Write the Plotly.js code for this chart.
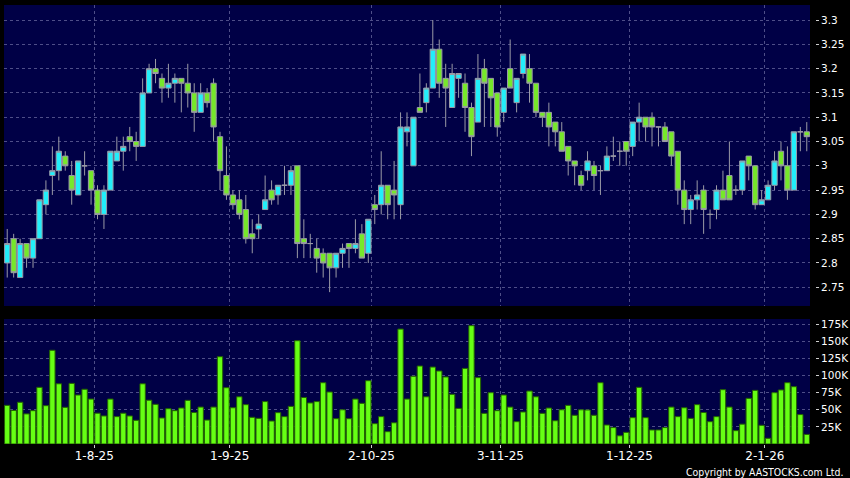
<!DOCTYPE html>
<html>
<head>
<meta charset="utf-8">
<script src="https://cdn.plot.ly/plotly-3.0.1.min.js"></script>
<style>
  html, body { margin: 0; padding: 0; background: #000; }
  #chart { width: 850px; height: 478px; }
</style>
</head>
<body>
<div id="chart"></div>
<script>
// Daily candles, 14 Jul 2025 – 12 Jan 2026 (trading days)
const openP  = [2.80,2.85,2.77,2.84,2.81,2.85,2.92,2.98,2.99,3.02,2.98,2.94,3.00,2.99,2.95,2.90,2.95,3.01,3.03,3.06,
                3.05,3.04,3.15,3.20,3.18,3.16,3.17,3.18,3.17,3.15,3.11,3.15,3.17,3.06,2.98,2.94,2.93,2.91,2.86,2.87,
                2.91,2.95,2.94,2.96,2.96,3.00,2.85,2.84,2.83,2.82,2.82,2.79,2.82,2.84,2.83,2.86,2.82,2.92,2.92,2.96,
                2.95,2.92,3.07,3.00,3.12,3.13,3.16,3.24,3.18,3.12,3.18,3.17,3.12,3.09,3.20,3.18,3.15,3.11,3.20,3.13,
                3.19,3.20,3.17,3.11,3.11,3.09,3.07,3.04,3.01,2.98,2.99,3.00,2.99,2.99,3.02,3.03,3.05,3.04,3.09,3.10,
                3.10,3.08,3.08,3.07,3.03,2.95,2.91,2.93,2.95,2.90,2.91,2.95,2.98,2.95,2.95,3.02,3.00,2.92,2.93,2.96,
                3.03,3.00,2.95,3.07,3.07];
const highP  = [2.87,2.86,2.85,2.84,2.85,2.93,2.97,3.04,3.06,3.03,3.01,3.01,3.03,2.99,2.96,2.96,3.03,3.06,3.06,3.08,
                3.07,3.18,3.21,3.22,3.19,3.21,3.19,3.18,3.21,3.17,3.17,3.16,3.18,3.07,3.04,2.95,2.95,2.94,2.89,2.90,
                2.98,2.97,2.96,3.00,3.00,3.00,2.89,2.86,2.85,2.83,2.82,2.82,2.84,2.84,2.89,2.88,2.89,2.94,3.03,2.96,
                3.01,3.11,3.11,3.10,3.19,3.17,3.30,3.26,3.21,3.21,3.19,3.19,3.13,3.23,3.22,3.18,3.15,3.16,3.26,3.18,
                3.23,3.23,3.17,3.11,3.13,3.09,3.09,3.04,3.01,2.99,3.03,3.01,3.00,3.04,3.06,3.05,3.05,3.09,3.13,3.10,
                3.11,3.08,3.09,3.07,3.03,2.97,2.94,2.97,2.96,2.91,2.96,2.99,3.05,2.96,3.01,3.02,3.00,2.95,2.97,3.03,
                3.05,3.04,3.07,3.08,3.09];
const lowP   = [2.77,2.77,2.77,2.79,2.79,2.85,2.90,2.94,2.97,2.99,2.92,2.94,2.98,2.92,2.89,2.87,2.95,3.01,2.99,3.03,
                3.01,3.04,3.15,3.17,3.13,3.14,3.13,3.11,3.12,3.07,3.11,3.12,3.05,2.95,2.93,2.91,2.89,2.84,2.82,2.85,
                2.91,2.92,2.92,2.94,2.94,2.81,2.81,2.81,2.78,2.77,2.74,2.77,2.79,2.79,2.82,2.81,2.80,2.88,2.90,2.89,
                2.89,2.89,3.04,3.00,3.11,3.11,3.16,3.14,3.08,3.12,3.14,3.07,3.02,3.09,3.08,3.08,3.06,3.09,3.16,3.11,
                3.18,3.13,3.10,3.08,3.04,3.04,3.03,2.98,2.96,2.95,2.97,2.95,2.94,2.99,3.01,3.00,3.00,3.02,3.05,3.05,
                3.04,3.04,3.05,3.00,2.92,2.88,2.88,2.91,2.86,2.87,2.89,2.93,2.93,2.94,2.94,2.97,2.91,2.92,2.93,2.95,
                2.97,2.93,2.95,3.03,3.03];
const closeP = [2.84,2.78,2.84,2.81,2.85,2.93,2.95,2.99,3.03,3.00,2.95,3.01,3.00,2.95,2.90,2.95,3.03,3.03,3.04,3.05,
                3.04,3.15,3.20,3.19,3.16,3.17,3.18,3.17,3.15,3.11,3.15,3.13,3.08,2.99,2.94,2.92,2.90,2.85,2.85,2.88,
                2.93,2.93,2.96,2.96,2.99,2.84,2.84,2.84,2.81,2.80,2.79,2.82,2.83,2.83,2.84,2.81,2.89,2.91,2.96,2.92,
                2.94,3.08,3.08,3.10,3.11,3.16,3.24,3.17,3.16,3.19,3.19,3.12,3.06,3.18,3.17,3.14,3.08,3.16,3.16,3.18,
                3.23,3.17,3.11,3.10,3.08,3.07,3.03,3.01,3.00,2.96,3.01,2.98,2.99,3.02,3.02,3.03,3.03,3.09,3.10,3.08,
                3.08,3.08,3.05,3.02,2.95,2.91,2.93,2.94,2.91,2.90,2.95,2.93,2.93,2.95,3.01,3.00,2.92,2.93,2.96,3.01,
                3.00,2.95,3.07,3.07,3.06];
const volume = [56500,49000,61000,44000,48700,82800,56000,137000,88000,53600,88600,71600,80000,65700,45000,41000,65700,40000,45000,41000,
                34600,88000,64000,58000,38000,51600,48700,52600,63800,46000,54000,35000,54000,127600,82300,53000,69000,57500,39000,37500,
                62000,33600,45800,40000,55000,151000,68000,60000,62000,89600,76000,37000,50000,37000,65700,59400,92500,29700,40000,18000,
                31000,168000,65700,99000,114000,69000,112500,106700,98000,72600,52000,110500,173000,97000,44800,75000,48700,71600,54000,32600,
                46800,77400,69000,44800,52600,34000,50000,56500,42000,50000,49700,42000,89600,27800,24000,12000,17000,38500,82800,38500,
                20500,20500,24000,54000,40000,53000,37500,57500,46000,32600,40000,79400,54000,19500,29000,66700,78400,27300,8300,75000,
                79000,89600,83800,43000,14000];

// Month-start labels and the index of the trading day each one marks
const dateLabels = ['1-8-25','1-9-25','2-10-25','3-11-25','1-12-25','2-1-26'];
const dateIndex  = [14, 35, 57, 77, 97, 118];

// Axis tick values
const priceTicks  = [2.75,2.8,2.85,2.9,2.95,3.0,3.05,3.1,3.15,3.2,3.25,3.3];
const volumeTicks = [25000,50000,75000,100000,125000,150000,175000];

const xIdx = openP.map((_, i) => i);
const gridVals = dateIndex.map(i => i - 0.5);

const CYAN = '#22eefa', GREEN = '#76e82a', EDGE = '#9a9aa6';
const GRID = '#4e4e88';
const TICKFONT = {family: 'DejaVu Sans, sans-serif', size: 10.5, color: '#ffffff'};

const candles = {
  type: 'candlestick',
  x: xIdx, open: openP, high: highP, low: lowP, close: closeP,
  xaxis: 'x', yaxis: 'y',
  increasing: {fillcolor: CYAN, line: {color: EDGE, width: 1}},
  decreasing: {fillcolor: GREEN, line: {color: EDGE, width: 1}},
  whiskerwidth: 0,
  hoverinfo: 'skip'
};

const bars = {
  type: 'bar',
  x: xIdx, y: volume,
  xaxis: 'x2', yaxis: 'y2',
  marker: {color: '#66ff14', line: {color: '#246400', width: 1}},
  hoverinfo: 'skip'
};

const xDomain = [0, 806 / 811];

const layout = {
  width: 850, height: 478,
  paper_bgcolor: '#000000',
  plot_bgcolor: '#000046',
  margin: {l: 4, r: 35, t: 5, b: 34, pad: 0},
  showlegend: false,
  boxgap: 0.18,
  boxgroupgap: 0,
  bargap: 0.17,
  xaxis: {
    domain: xDomain, anchor: 'y', range: [-0.5, openP.length - 0.5],
    tickmode: 'array', tickvals: gridVals, showticklabels: false, ticks: '',
    showgrid: true, gridcolor: GRID, gridwidth: 1, griddash: '3px,3px',
    zeroline: false, showline: false, rangeslider: {visible: false}, fixedrange: true
  },
  xaxis2: {
    domain: xDomain, anchor: 'y2', range: [-0.5, openP.length - 0.5],
    tickmode: 'array', tickvals: gridVals, ticktext: dateLabels,
    ticks: 'outside', ticklen: 3, tickcolor: '#cfcfcf', tickwidth: 1,
    ticklabelstandoff: -2,
    tickfont: {family: 'DejaVu Sans, sans-serif', size: 12, color: '#ffffff'},
    showgrid: true, gridcolor: GRID, gridwidth: 1, griddash: '3px,3px',
    zeroline: false, showline: false, fixedrange: true
  },
  yaxis: {
    domain: [0.3144, 1], anchor: 'free', position: 1, side: 'right',
    range: [2.7115, 3.331],
    tickmode: 'array', tickvals: priceTicks, ticktext: priceTicks.map(v => String(v)),
    ticks: 'outside', ticklen: 3, tickcolor: '#cfcfcf', tickwidth: 1,
    tickfont: TICKFONT,
    showgrid: true, gridcolor: GRID, gridwidth: 1, griddash: '3px,3px',
    zeroline: false, showline: false, fixedrange: true
  },
  yaxis2: {
    domain: [0, 0.2847], anchor: 'free', position: 1, side: 'right',
    range: [0, 182700],
    tickmode: 'array', tickvals: volumeTicks, ticktext: volumeTicks.map(v => (v / 1000) + 'K'),
    ticks: 'outside', ticklen: 3, tickcolor: '#cfcfcf', tickwidth: 1,
    tickfont: TICKFONT,
    showgrid: true, gridcolor: GRID, gridwidth: 1, griddash: '3px,3px',
    zeroline: false, showline: false, fixedrange: true
  },
  annotations: [{
    text: 'Copyright by AASTOCKS.com Ltd.',
    xref: 'paper', yref: 'paper', x: 1, y: 0,
    xanchor: 'right', yanchor: 'middle', xshift: 30, yshift: -28,
    showarrow: false,
    font: {family: 'DejaVu Sans Condensed, DejaVu Sans, sans-serif', size: 10.4, color: '#ffffff'}
  }]
};

Plotly.newPlot('chart', [candles, bars], layout, {displayModeBar: false, staticPlot: true});
</script>
</body>
</html>
